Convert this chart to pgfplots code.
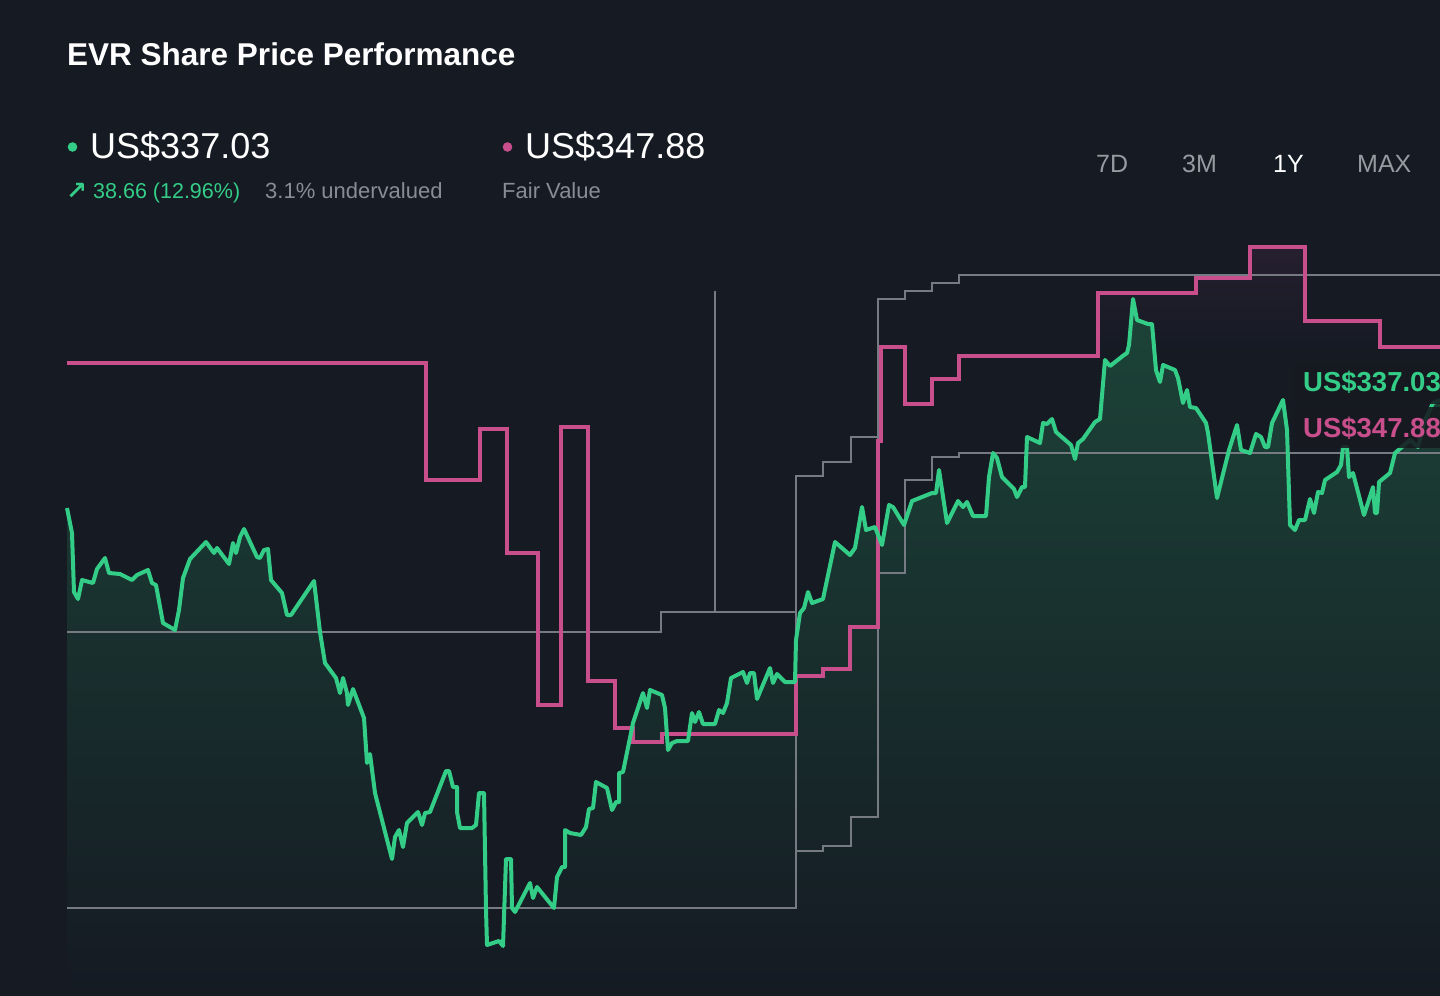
\documentclass[border=0pt]{standalone}
\usepackage{fontspec}
\setmainfont{Liberation Sans}
\newfontfamily\symfont{DejaVu Sans}
\usepackage{pgfplots}
\pgfplotsset{compat=1.18}
\usepackage{pgfplotstable}

\definecolor{bgc}{RGB}{21,26,35}
\definecolor{gline}{RGB}{52,205,135}
\definecolor{pline}{RGB}{200,78,140}
\definecolor{grayl}{RGB}{118,122,130}
\definecolor{gtxt}{RGB}{135,140,150}
\definecolor{btxt}{RGB}{150,155,162}
\definecolor{gfill}{RGB}{28,68,56}
\definecolor{pfill}{RGB}{38,31,48}
\definecolor{boxc}{RGB}{23,26,32}

\pgfdeclareverticalshading{pinkfade}{100bp}{color(0bp)=(bgc); color(25bp)=(bgc); color(68bp)=(bgc); color(75bp)=(pfill); color(100bp)=(pfill)}

% price line (x = pixel column, y = pixel row)
\pgfplotstableread{
x y
67 508
72 533
74 592
78 599
82 580
93 583
97 569
105 558
109 573
120 574
132 580
137 575
148 570
152 583
156 585
163 623
175 630
179 610
183 578
190 559
206 542
214 553
217 548
229 564
233 543
236 553
240 537
244 529
257 557
260 558
264 550
268 549
271 580
282 593
287 615
291 615
314 581
320 632
325 663
336 678
340 693
343 678
347 693
348 705
353 689
364 718
367 763
370 754
375 793
392 859
395 837
399 830
403 847
407 823
418 812
422 825
425 813
430 812
446 771
449 771
453 787
457 787
457 812
460 828
472 828
476 825
479 793
484 793
486 910
487 945
499 941
503 946
506 859
511 859
512 908
515 912
530 883
533 898
537 887
554 908
557 877
562 867
565 867
565 830
570 833
581 835
586 827
589 809
593 808
596 782
607 788
612 810
616 802
619 802
619 773
623 772
633 723
643 693
647 708
650 690
662 695
665 708
668 750
672 743
677 741
688 741
692 713
695 722
699 712
703 724
715 724
719 710
723 713
727 703
731 678
743 672
747 683
750 673
754 673
757 699
770 668
773 683
777 674
785 682
795 682
796 640
800 613
804 608
808 592
812 603
823 599
835 542
850 555
855 548
862 507
866 530
875 527
882 545
889 505
893 507
904 525
912 501
917 499
932 493
936 493
939 470
947 523
958 501
963 507
967 502
973 516
986 516
989 477
993 453
997 458
1002 477
1014 489
1017 497
1022 487
1025 487
1027 437
1040 443
1043 423
1047 424
1052 419
1056 432
1071 445
1075 459
1078 443
1083 439
1095 422
1100 419
1105 360
1110 366
1124 355
1127 353
1129 345
1133 299
1137 320
1148 324
1152 324
1156 370
1160 382
1163 365
1175 370
1178 378
1183 403
1187 390
1190 407
1196 408
1206 423
1208 433
1217 498
1229 450
1237 425
1241 450
1250 453
1256 434
1261 437
1265 447
1268 447
1272 423
1283 400
1287 430
1290 525
1295 530
1299 520
1305 520
1310 499
1314 513
1318 492
1322 493
1325 480
1337 472
1341 465
1343 447
1347 447
1349 477
1353 473
1364 515
1373 487
1375 513
1377 513
1379 482
1390 473
1395 453
1402 447
1410 440
1418 447
1425 420
1433 403
1440 400
}\pricetab

% fair value (step line)
\pgfplotstableread{
x y
67 363
426 363
426 480
480 480
480 429
507 429
507 553
538 553
538 705
561 705
561 427
588 427
588 681
615 681
615 728
633 728
633 742
662 742
662 734
796 734
796 676
823 676
823 669
850 669
850 627
878 627
878 441
881 441
881 347
905 347
905 404
932 404
932 379
959 379
959 356
1098 356
1098 293
1196 293
1196 278
1250 278
1250 247
1305 247
1305 321
1380 321
1380 347
1440 347
}\fairtab

% upper grey band
\pgfplotstableread{
x y
67 632
661 632
661 612
715 612
715 291
715 612
796 612
796 476
823 476
823 462
851 462
851 437
878 437
878 299
905 299
905 291
932 291
932 283
959 283
959 275
1440 275
}\uppertab

% lower grey band
\pgfplotstableread{
x y
67 908
796 908
796 851
823 851
823 846
851 846
851 817
878 817
878 573
905 573
905 480
932 480
932 457
959 457
959 453
1440 453
}\lowertab

\begin{document}
\begin{tikzpicture}
\fill[bgc] (0,0) rectangle (1440bp,996bp);
\useasboundingbox (0,0) rectangle (1440bp,996bp);
\begin{axis}[
  at={(0,0)}, anchor=south west,
  scale only axis, width=1440bp, height=996bp,
  xmin=0, xmax=1440, ymin=0, ymax=996, y dir=reverse,
  hide axis, clip=true,
]
% faint fair-value area
\addplot[draw=none, shade, shading=pinkfade]
  table[x=x,y=y]{\fairtab} -- (axis cs:1440,996) -- (axis cs:67,996) -- cycle;
% green area
\addplot[draw=none, top color=gfill, bottom color=bgc]
  table[x=x,y=y]{\pricetab} -- (axis cs:1440,996) -- (axis cs:67,996) -- cycle;
% grey bands
\addplot[grayl, line width=2bp, no markers] table[x=x,y=y]{\uppertab};
\addplot[grayl, line width=2bp, no markers] table[x=x,y=y]{\lowertab};
\addplot[grayl, line width=2bp, no markers] coordinates {(796,476) (796,908)};
\addplot[grayl, line width=2bp, no markers] coordinates {(878,299) (878,817)};
% fair value
\addplot[pline, line width=4bp, no markers, line join=miter] table[x=x,y=y]{\fairtab};
% price
\addplot[gline, line width=4bp, no markers, line join=round] table[x=x,y=y]{\pricetab};

% end labels
\fill[boxc, opacity=0.88] (axis cs:1294,362) rectangle (axis cs:1445,404);
\fill[boxc, opacity=0.88] (axis cs:1294,407) rectangle (axis cs:1445,448);
\node[anchor=base west, inner sep=0pt, text=gline, font=\fontsize{27.5bp}{30bp}\selectfont\bfseries] at (axis cs:1303,391) {US\$337.03};
\node[anchor=base west, inner sep=0pt, text=pline, font=\fontsize{27.5bp}{30bp}\selectfont\bfseries] at (axis cs:1303,437) {US\$347.88};

% header texts
\node[anchor=base west, inner sep=0pt, text=white, font=\fontsize{31.5bp}{34bp}\selectfont\bfseries] at (axis cs:67,66) {EVR Share Price Performance};
\fill[gline] (axis cs:72.5,147) circle (4.8bp);
\node[anchor=base west, inner sep=0pt, text=white, font=\fontsize{36bp}{40bp}\selectfont] at (axis cs:90,159) {US\$337.03};
\fill[pline] (axis cs:507.5,147) circle (4.8bp);
\node[anchor=base west, inner sep=0pt, text=white, font=\fontsize{36bp}{40bp}\selectfont] at (axis cs:525,159) {US\$347.88};
\node[anchor=base west, inner sep=0pt, text=gline, font=\fontsize{25bp}{27bp}\selectfont\symfont\bfseries] at (axis cs:66,200) {↗};
\node[anchor=base west, inner sep=0pt, text=gline, font=\fontsize{21.5bp}{24bp}\selectfont] at (axis cs:93,199) {38.66 (12.96\%)};
\node[anchor=base west, inner sep=0pt, text=gtxt, font=\fontsize{22bp}{24bp}\selectfont] at (axis cs:265,199) {3.1\% undervalued};
\node[anchor=base west, inner sep=0pt, text=gtxt, font=\fontsize{22bp}{24bp}\selectfont] at (axis cs:502,199) {Fair Value};
% range buttons
\node[anchor=base west, inner sep=0pt, text=btxt, font=\fontsize{25bp}{27bp}\selectfont] at (axis cs:1096,173) {7D};
\node[anchor=base west, inner sep=0pt, text=btxt, font=\fontsize{25bp}{27bp}\selectfont] at (axis cs:1182,173) {3M};
\node[anchor=base west, inner sep=0pt, text=white, font=\fontsize{25bp}{27bp}\selectfont] at (axis cs:1273,173) {1Y};
\node[anchor=base west, inner sep=0pt, text=btxt, font=\fontsize{25bp}{27bp}\selectfont] at (axis cs:1357,173) {MAX};
\end{axis}
\end{tikzpicture}
\end{document}
